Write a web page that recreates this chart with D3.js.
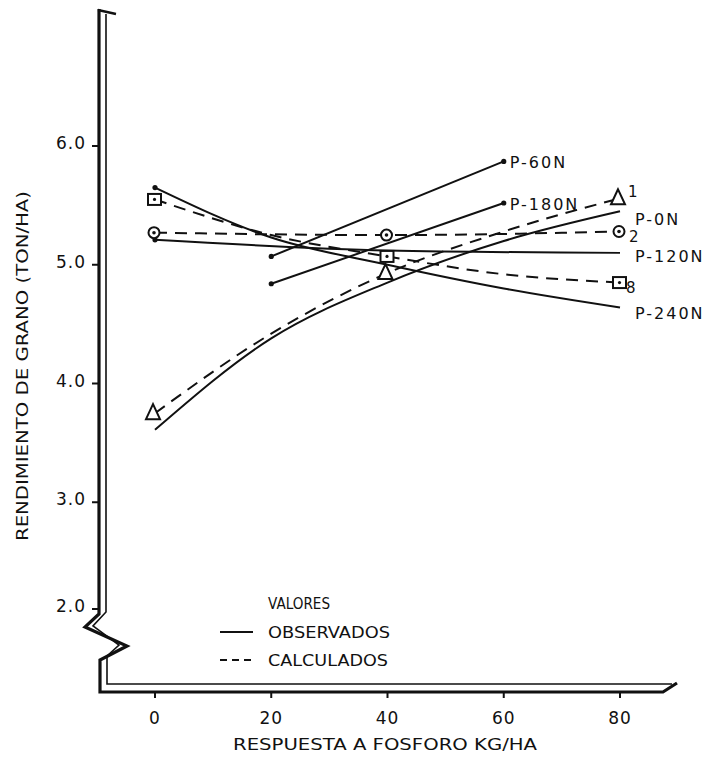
<!DOCTYPE html>
<html><head><meta charset="utf-8">
<script src="https://cdn.jsdelivr.net/npm/d3@7"></script>
<style>
html,body{margin:0;padding:0;background:#fff;}
text{font-family:"DejaVu Sans",sans-serif;fill:#111;}
</style></head>
<body><svg id="c" width="713" height="757"></svg>
<script>
// ---- data ----
const xTicks = [0, 20, 40, 60, 80];
const xTickLabels = ["0", "20", "40", "60", "80"];
const yTicks = [2, 3, 4, 5, 6];
const yTickLabels = ["2.0", "3.0", "4.0", "5.0", "6.0"];

// observed (solid)
const obsP60N_x = [20, 60];            const obsP60N_y = [5.07, 5.87];
const obsP180N_x = [20, 60];           const obsP180N_y = [4.84, 5.52];
const obsP0N_x = [0, 20, 40, 60, 80];  const obsP0N_y = [3.61, 4.38, 4.85, 5.20, 5.45];
const obsP120N_x = [0, 40, 80];        const obsP120N_y = [5.21, 5.12, 5.10];
const obsP240N_x = [0, 20, 40, 60, 80];const obsP240N_y = [5.65, 5.23, 5.00, 4.80, 4.64];

// calculated (dashed)
const calc1_x = [0, 20, 40, 60, 80];   const calc1_y = [3.75, 4.42, 4.93, 5.28, 5.56];
const calc2_x = [0, 40, 80];           const calc2_y = [5.27, 5.25, 5.28];
const calc8_x = [0, 20, 40, 60, 80];   const calc8_y = [5.55, 5.25, 5.07, 4.92, 4.85];
const markerX = [0, 40, 80];
const calc1_m = [3.75, 4.93, 5.56];
const calc2_m = [5.27, 5.25, 5.28];
const calc8_m = [5.55, 5.07, 4.85];

const seriesLabels = ["P-60N", "P-180N", "P-0N", "P-120N", "P-240N"];
const calcLabels = ["1", "2", "8"];
const legendTitle = "VALORES";
const legendItems = ["OBSERVADOS", "CALCULADOS"];
const xTitle = "RESPUESTA A FOSFORO KG/HA";
const yTitle = "RENDIMIENTO DE GRANO (TON/HA)";

// ---- drawing ----
const svg = d3.select("#c");
const ink = "#111";
const x = d3.scaleLinear().domain([0, 80]).range([155, 620]);
const y = d3.scaleLinear().domain([2, 6]).range([621, 146]);
const breakShift = v => (v === 2 ? -12 : 0); // 2.0 label sits just above the axis break

const axX = 99, axY = 692;
// frame: double axis with break
const outer = [[axX, 9], [axX, 614], [85, 627], [127, 646], [axX + 1, 660], [axX + 1, axY], [663, axY], [677, 683]];
const inner = [[axX + 7, 14], [axX + 7, 612], [93, 626], [119, 645], [axX + 8, 656], [axX + 8, axY - 8], [672, axY - 8]];
const ln = d3.line();
svg.append("path").attr("d", ln(outer)).attr("fill", "none").attr("stroke", ink).attr("stroke-width", 3.2).attr("stroke-linejoin", "miter");
svg.append("path").attr("d", ln(inner)).attr("fill", "none").attr("stroke", ink).attr("stroke-width", 1.6);
svg.append("path").attr("d", ln([[axX - 1, 10], [116, 14]])).attr("stroke", ink).attr("stroke-width", 2.5);

// y ticks
const yt = svg.append("g");
yTicks.forEach((v, i) => {
  const yy = y(v) + breakShift(v);
  yt.append("line").attr("x1", 92).attr("x2", axX).attr("y1", yy).attr("y2", yy).attr("stroke", ink).attr("stroke-width", 2);
  yt.append("text").attr("x", 86).attr("y", yy + 3).attr("text-anchor", "end")
    .attr("font-size", 17).attr("letter-spacing", 1).text(yTickLabels[i]);
});
// x ticks
const xt = svg.append("g");
xTicks.forEach((v, i) => {
  xt.append("line").attr("x1", x(v)).attr("x2", x(v)).attr("y1", axY).attr("y2", axY + 6).attr("stroke", ink).attr("stroke-width", 2);
  xt.append("text").attr("x", x(v)).attr("y", axY + 32).attr("text-anchor", "middle")
    .attr("font-size", 17).attr("letter-spacing", 1).text(xTickLabels[i]);
});
svg.append("text").attr("x", 385).attr("y", 750).attr("text-anchor", "middle")
  .attr("font-size", 16).attr("textLength", 304).attr("lengthAdjust", "spacingAndGlyphs").text(xTitle);
svg.append("text").attr("transform", "translate(28,366) rotate(-90)").attr("text-anchor", "middle")
  .attr("font-size", 16).attr("textLength", 350).attr("lengthAdjust", "spacingAndGlyphs").text(yTitle);

// lines
const solid = d3.line().x(d => x(d[0])).y(d => y(d[1])).curve(d3.curveMonotoneX);
const zip = (a, b) => a.map((v, i) => [v, b[i]]);
const plot = svg.append("g").attr("fill", "none").attr("stroke", ink);
[[obsP60N_x, obsP60N_y], [obsP180N_x, obsP180N_y], [obsP0N_x, obsP0N_y], [obsP120N_x, obsP120N_y], [obsP240N_x, obsP240N_y]]
  .forEach(s => plot.append("path").attr("d", solid(zip(s[0], s[1]))).attr("stroke-width", 2));
[[calc1_x, calc1_y], [calc2_x, calc2_y], [calc8_x, calc8_y]]
  .forEach(s => plot.append("path").attr("d", solid(zip(s[0], s[1]))).attr("stroke-width", 2).attr("stroke-dasharray", "12,8"));

// end dots of observed lines
const dots = [[0, obsP240N_y[0]], [obsP60N_x[0], obsP60N_y[0]], [obsP60N_x[1], obsP60N_y[1]],
  [obsP180N_x[0], obsP180N_y[0]], [obsP180N_x[1], obsP180N_y[1]], [0, obsP120N_y[0]]];
svg.append("g").selectAll("circle").data(dots).join("circle")
  .attr("cx", d => x(d[0])).attr("cy", d => y(d[1])).attr("r", 2.6).attr("fill", ink);

// markers
const mk = svg.append("g").attr("fill", "#fff").attr("stroke", ink).attr("stroke-width", 2);
markerX.forEach((v, i) => {
  const cx = x(v) - 2, cy = y(calc1_m[i]);
  mk.append("path").attr("d", `M${cx},${cy - 9}L${cx - 7},${cy + 6}L${cx + 7},${cy + 6}Z`);
});
markerX.forEach((v, i) => {
  const cx = x(v) - 1, cy = y(calc2_m[i]);
  mk.append("circle").attr("cx", cx).attr("cy", cy).attr("r", 5.5);
  svg.append("circle").attr("cx", cx).attr("cy", cy).attr("r", 1.8).attr("fill", ink);
});
markerX.forEach((v, i) => {
  const cx = x(v), cy = y(calc8_m[i]);
  mk.append("rect").attr("x", cx - 7).attr("y", cy - 5.5).attr("width", 13).attr("height", 11);
  svg.append("circle").attr("cx", cx - 0.5).attr("cy", cy).attr("r", 1.6).attr("fill", ink);
});

// series labels
const lab = svg.append("g").attr("font-size", 16).attr("letter-spacing", 2);
const labelPos = [
  [obsP60N_x[1], obsP60N_y[1], 6, 7],
  [obsP180N_x[1], obsP180N_y[1], 6, 7],
  [80, obsP0N_y[4], 15, 14],
  [80, obsP120N_y[2], 15, 9],
  [80, obsP240N_y[4], 15, 11]
];
seriesLabels.forEach((t, i) => {
  const p = labelPos[i];
  lab.append("text").attr("x", x(p[0]) + p[2]).attr("y", y(p[1]) + p[3]).text(t);
});
const cl = svg.append("g").attr("font-size", 15);
cl.append("text").attr("x", x(80) + 8).attr("y", y(calc1_m[2]) - 1).text(calcLabels[0]);
cl.append("text").attr("x", x(80) + 9).attr("y", y(calc2_m[2]) + 10).text(calcLabels[1]);
cl.append("text").attr("x", x(80) + 6).attr("y", y(calc8_m[2]) + 10).text(calcLabels[2]);

// legend
const lg = svg.append("g").attr("font-size", 15);
lg.append("text").attr("x", 268).attr("y", 609).attr("textLength", 62).attr("lengthAdjust", "spacingAndGlyphs").text(legendTitle);
lg.append("line").attr("x1", 220).attr("x2", 253).attr("y1", 632).attr("y2", 632).attr("stroke", ink).attr("stroke-width", 2);
lg.append("text").attr("x", 268).attr("y", 638).attr("textLength", 122).attr("lengthAdjust", "spacingAndGlyphs").text(legendItems[0]);
lg.append("line").attr("x1", 220).attr("x2", 253).attr("y1", 660).attr("y2", 660).attr("stroke", ink).attr("stroke-width", 2).attr("stroke-dasharray", "7,5");
lg.append("text").attr("x", 268).attr("y", 666).attr("textLength", 120).attr("lengthAdjust", "spacingAndGlyphs").text(legendItems[1]);
</script></body></html>
